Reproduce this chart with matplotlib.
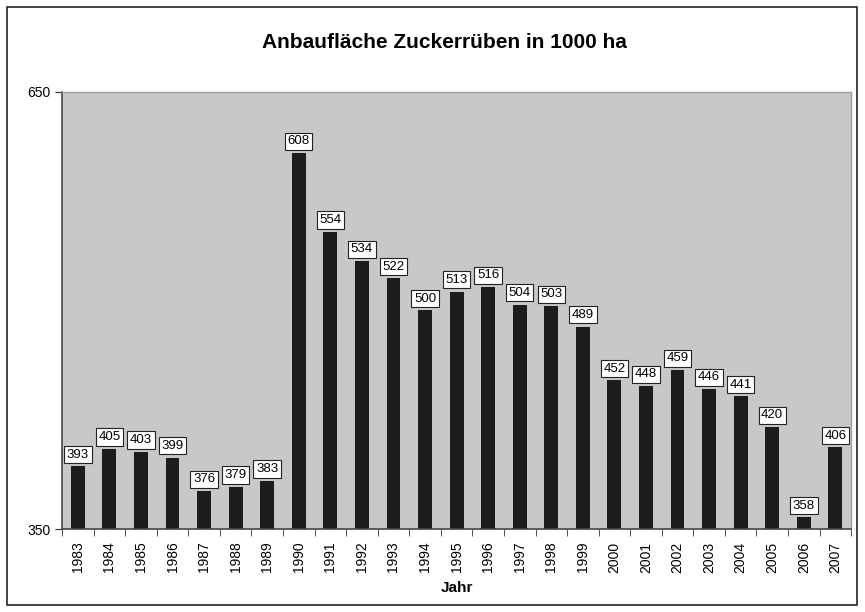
import matplotlib.pyplot as plt
import numpy as np
from matplotlib.patches import Rectangle

years = ['1983', '1984', '1985', '1986', '1987', '1988', '1989', '1990', '1991', '1992',
         '1993', '1994', '1995', '1996', '1997', '1998', '1999', '2000', '2001', '2002',
         '2003', '2004', '2005', '2006', '2007']
flaeche = [393, 405, 403, 399, 376, 379, 383, 608, 554, 534,
           522, 500, 513, 516, 504, 503, 489, 452, 448, 459,
           446, 441, 420, 358, 406]

fig = plt.figure(figsize=(8.65, 6.12), dpi=100)
fig.patches.append(Rectangle((0.008, 0.011), 0.983, 0.977, transform=fig.transFigure,
                             fill=False, edgecolor='#222222', linewidth=1.2))
ax = fig.add_axes([0.0717, 0.1356, 0.9123, 0.7141])
ax.set_facecolor('#c8c8c8')

x = np.arange(len(years))
ax.bar(x, np.array(flaeche) - 350, bottom=350, width=0.44, color='#1c1c1c', zorder=2)

for xi, v in zip(x, flaeche):
    ax.text(xi, v + 4, str(v), ha='center', va='bottom', fontsize=9.5, family='Liberation Sans',
            bbox=dict(boxstyle='square,pad=0.2', facecolor='white', edgecolor='#222222', linewidth=0.8),
            zorder=3)

ax.set_xlim(-0.5, len(years) - 0.5)
ax.set_ylim(350, 650)
ax.set_yticks([350, 650])
ax.set_yticklabels(['350', '650'], family='Liberation Sans', fontsize=10)
ax.set_xticks(x)
ax.set_xticklabels(years, rotation=90, family='Liberation Sans', fontsize=10)
ax.tick_params(axis='x', which='major', length=0, pad=9)
ax.set_xticks(np.arange(-0.5, len(years) + 0.5, 1), minor=True)
ax.tick_params(axis='x', which='minor', length=5, direction='out', color='#333333')
ax.tick_params(axis='y', length=5, direction='out', color='#333333')

for s in ['left', 'bottom']:
    ax.spines[s].set_color('#444444')
    ax.spines[s].set_linewidth(1.2)
for s in ['top', 'right']:
    ax.spines[s].set_color('#a0a0a0')
    ax.spines[s].set_linewidth(1.0)

ax.set_xlabel('Jahr', family='Liberation Sans', fontsize=11, fontweight='bold', labelpad=6)
fig.text(0.514, 0.931, 'Anbaufläche Zuckerrüben in 1000 ha', ha='center', va='center',
         family='Liberation Sans', fontsize=15, fontweight='bold')

plt.savefig('out.png', dpi=100)
